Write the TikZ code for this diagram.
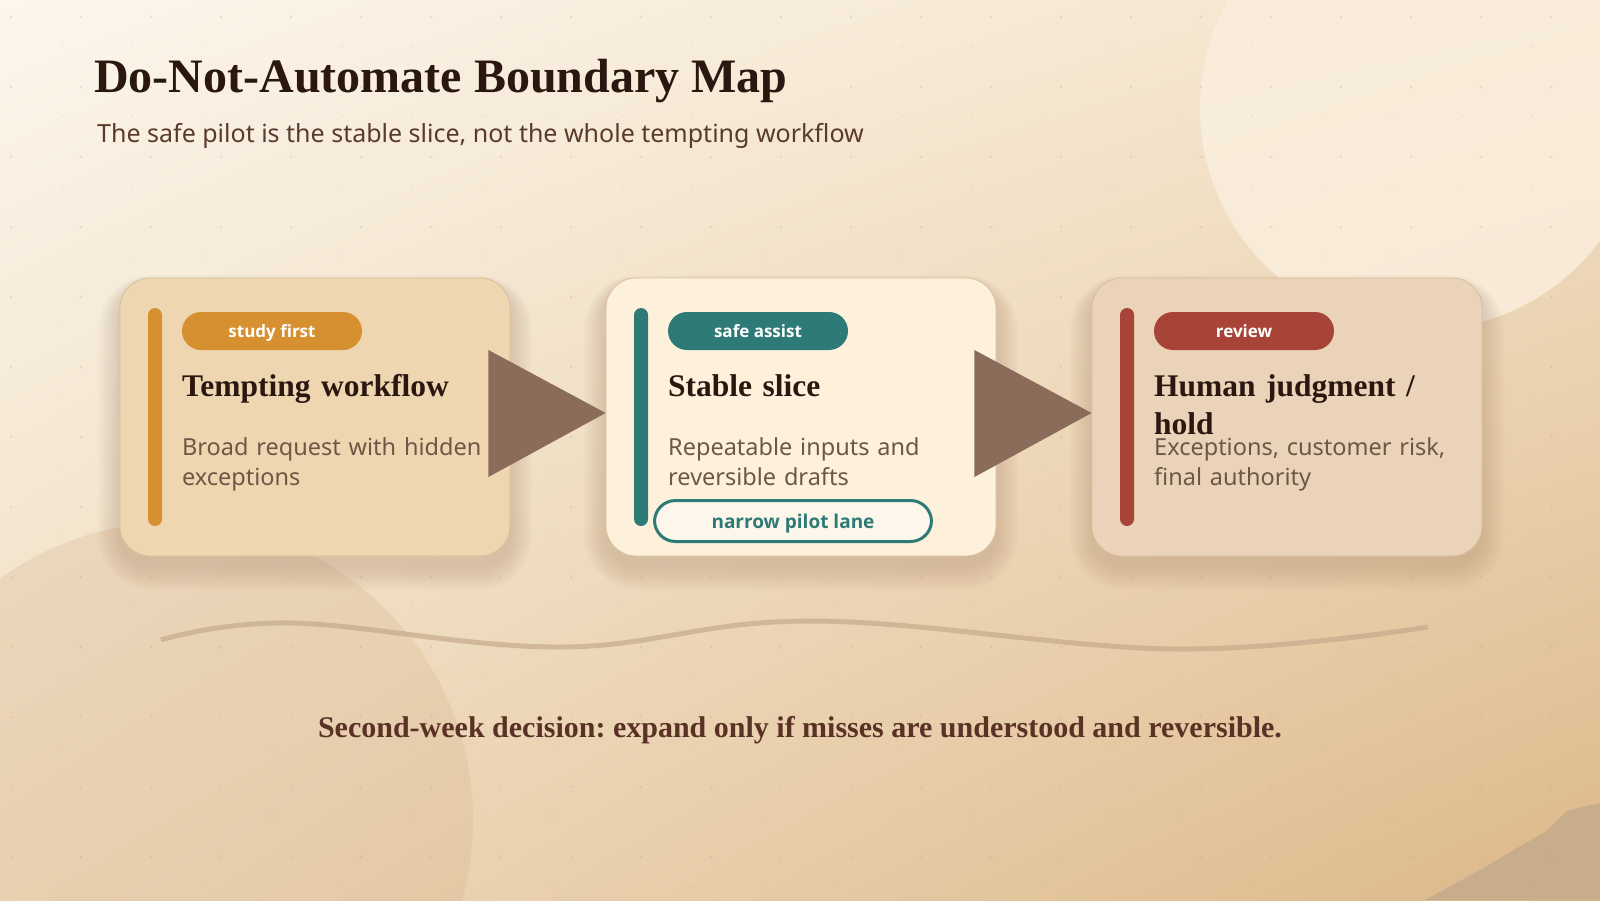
\documentclass[tikz,border=0pt]{standalone}
\usepackage{fontspec}
\setmainfont{Liberation Serif}
\newfontfamily\notosans{Noto Sans}
\newfontfamily\pillfont{Open Sans}
\usetikzlibrary{shadings}
\frenchspacing
\definecolor{bgA}{HTML}{FCF6EC}
\definecolor{bgB}{HTML}{F4E3CA}
\definecolor{bgC}{HTML}{EFDBBE}
\definecolor{bgD}{HTML}{DCB889}
\definecolor{circTR}{HTML}{FAEEDD}
\definecolor{circBL}{HTML}{D6B48C}
\definecolor{hillc}{HTML}{C8AD8D}
\definecolor{dotc}{HTML}{C4A27E}
\definecolor{ink}{HTML}{2A1710}
\definecolor{subc}{HTML}{5A3A2C}
\definecolor{bodyc}{HTML}{6E5747}
\definecolor{footc}{HTML}{5A3225}
\definecolor{orangec}{HTML}{D6902F}
\definecolor{tealc}{HTML}{2E7A76}
\definecolor{redc}{HTML}{A84437}
\definecolor{arrowc}{HTML}{8B6B59}
\definecolor{cardA}{HTML}{EED6B0}
\definecolor{cardB}{HTML}{FDF1DC}
\definecolor{cardC}{HTML}{EAD3B8}
\definecolor{cardline}{HTML}{D9BF9C}
\definecolor{lanefill}{HTML}{FDF6EA}
\definecolor{wavec}{HTML}{C3A789}
\definecolor{shadowc}{HTML}{6B4A2E}
\tikzset{
  card/.style={rounded corners=30pt, minimum width=390pt, minimum height=278pt, inner sep=0pt,
    draw=cardline, line width=0.8pt},
  accent/.style={rounded corners=7pt, minimum width=14pt, minimum height=218pt, inner sep=0pt},
  pill/.style={rounded corners=19pt, minimum width=180pt, minimum height=38pt, inner sep=0pt,
    text height=12.5pt, text depth=0pt,
    text=white, font=\pillfont\bfseries\fontsize{17}{20}\selectfont},
  ttl/.style={anchor=base west, inner sep=0pt, text=ink, text width=310pt, align=left,
    font=\bfseries\fontsize{31.5}{38}\selectfont},
  bodytxt/.style={anchor=base west, inner sep=0pt, text=bodyc, text width=320pt, align=left,
    font=\notosans\fontsize{23.5}{30}\selectfont},
  lane/.style={draw=tealc, line width=3pt, fill=lanefill, rounded corners=21pt,
    minimum width=277pt, minimum height=41pt, inner sep=0pt, text=tealc,
    text height=14pt, text depth=0pt,
    font=\pillfont\bfseries\fontsize{19}{22}\selectfont},
  tri/.style={fill=arrowc},
  wave/.style={draw=wavec, line width=5pt, opacity=0.65},
  softshadow/.style={fill=shadowc, opacity=0.016}
}
\newcommand\cardshadowat[2]{%
  \foreach \k in {1,...,11}{%
    \fill[softshadow, rounded corners={30+2.2*\k}]
      ({#1-195-2.0*\k},{#2-139+8-1.0*\k}) rectangle ({#1+195+2.0*\k},{#2+139+10+2.2*\k});}}
\begin{document}
\begin{tikzpicture}[x=1pt,y=-1pt]
\useasboundingbox (0,0) rectangle (1600,900);
% background
\shade[upper left=bgA, upper right=bgB, lower left=bgC, lower right=bgD] (0,0) rectangle (1600,900);
\fill[circTR, opacity=0.85] (1422,108) circle[radius=222];
\fill[circBL, opacity=0.28] (175,820) circle[radius=298];
\fill[hillc] (1425,900) -- (1480,870) -- (1517,848) -- (1545,832) -- (1567,811) -- (1590,805) -- (1600,803) -- (1600,900) -- cycle;
\foreach \i in {0,...,22} \foreach \j in {0,...,12}
  {\fill[dotc, opacity=0.35] (11+70*\i,17+70*\j) circle[radius=1.1];
   \fill[dotc, opacity=0.2] (62+70*\i,46+70*\j) circle[radius=1.0];}
% title
\node[anchor=base west, inner sep=0pt, text=ink, font=\bfseries\fontsize{48}{56}\selectfont] (title) at (94,92) {Do-Not-Automate Boundary Map};
\node[anchor=base west, inner sep=0pt, text=subc, font=\notosans\fontsize{25}{29}\selectfont] (subtitle) at (97,142) {The safe pilot is the stable slice, not the whole tempting workflow};
% shadows
\cardshadowat{315}{417}
\cardshadowat{801}{417}
\cardshadowat{1287}{417}
% cards
\node[card, fill=cardA] (c1) at (315,417) {};
\node[card, fill=cardB] (c2) at (801,417) {};
\node[card, fill=cardC] (c3) at (1287,417) {};
% arrows
\fill[tri] ([xshift=-22pt,yshift=67pt]c1.east) -- ([yshift=4pt]c2.west) -- ([xshift=-22pt,yshift=-60pt]c1.east) -- cycle;
\fill[tri] ([xshift=-22pt,yshift=67pt]c2.east) -- ([yshift=4pt]c3.west) -- ([xshift=-22pt,yshift=-60pt]c2.east) -- cycle;
% accents
\node[accent, fill=orangec] (a1) at (155,417) {};
\node[accent, fill=tealc] (a2) at (641,417) {};
\node[accent, fill=redc] (a3) at (1127,417) {};
% pills
\node[pill, fill=orangec] (p1) at (272,331) {study first};
\node[pill, fill=tealc] (p2) at (758,331) {safe assist};
\node[pill, fill=redc] (p3) at (1244,331) {review};
% titles
\node[ttl] (t1) at (182,396) {Tempting workflow};
\node[ttl] (t2) at (668,396) {Stable slice};
\node[ttl] (t3) at (1154,396) {Human judgment /\\hold};
% body
\node[bodytxt] (d1) at (182,455) {Broad request with hidden\\exceptions};
\node[bodytxt] (d2) at (668,455) {Repeatable inputs and\\reversible drafts};
\node[bodytxt] (d3) at (1154,455) {Exceptions, customer risk,\\final authority};
% lane
\node[lane] (lane) at (793,521) {narrow pilot lane};
% wave
\draw[wave] plot[smooth, tension=0.65] coordinates {(161,640) (291,623) (561,647) (813,621) (1175,649) (1428,627)};
% footer
\node[anchor=base, inner sep=0pt, text=footc, font=\bfseries\fontsize{30}{35}\selectfont] (foot) at (800,737) {Second-week decision: expand only if misses are understood and reversible.};
\end{tikzpicture}
\end{document}
